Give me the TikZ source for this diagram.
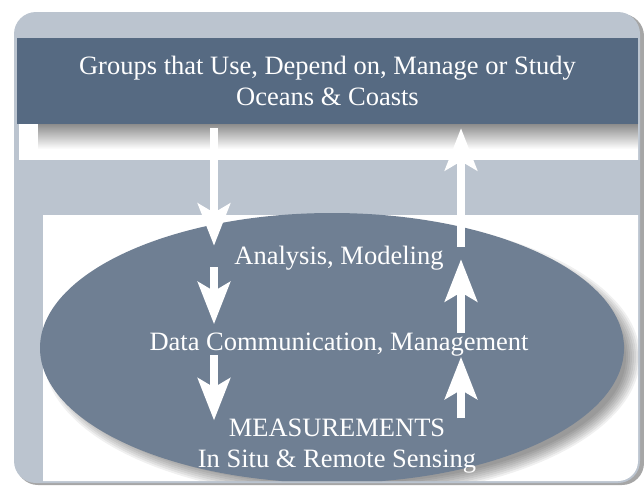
\documentclass[tikz,border=0pt]{standalone}
\usepackage{fontspec}
\setmainfont{Liberation Serif}
\usetikzlibrary{arrows.meta,shapes.geometric}

\definecolor{panelgray}{HTML}{BBC4CF}
\definecolor{headblue}{HTML}{566A82}
\definecolor{ovalblue}{HTML}{6F7F93}

\tikzset{
  labeltext/.style={text=white,font=\fontsize{26.5}{31.5}\selectfont,align=center,inner sep=0pt},
  bigarrow/.style={white,line width=8pt,-{Stealth[length=42pt,width=32pt,inset=9pt]}},
}

\begin{document}
\begin{tikzpicture}[x=1pt,y=-1pt]
\useasboundingbox (0,0) rectangle (644,485);
% background panel
\fill[black!35,rounded corners=22pt] (16,14) rectangle (644,485);
\fill[panelgray,rounded corners=22pt] (14,12) rectangle (640,483);
\begin{scope}
\clip[rounded corners=20pt] (14,12) rectangle (638,481);
\fill[white] (19,124) rectangle (640,160);
\shade[top color=black!45,bottom color=white] (38,124) rectangle (640,149);
\fill[white] (43,215) rectangle (640,485);
% soft shadow of the oval
\foreach \r in {0,2,...,14}
  \fill[black,opacity=0.06] (342,357) ellipse [x radius=284+\r, y radius=127+\r];
\node[ellipse,fill=ovalblue,minimum width=584pt,minimum height=270pt,inner sep=0pt] (oval) at (332,348) {};
\end{scope}
% header
\node[fill=headblue,minimum width=621pt,minimum height=86pt,inner sep=0pt] (header) at (327.5,81) {};
\node[labeltext] (groups) at (header.center) {Groups that Use, Depend on, Manage or Study\\Oceans \& Coasts};

\node[labeltext] (analysis) at (339,258) {Analysis, Modeling};
\node[labeltext] (data) at (339,345) {Data Communication, Management};
\node[labeltext] (meas) at (337,446) {MEASUREMENTS\\In Situ \& Remote Sensing};

\coordinate (lcol) at (214,0);
\coordinate (rcol) at (461,0);

% down the left side
\draw[bigarrow,shorten <=4pt] (header.south -| lcol) -- (analysis.north -| lcol);
\draw[bigarrow,shorten <=-3pt,shorten >=9pt] (analysis.south -| lcol) -- (data.north -| lcol);
\draw[bigarrow,shorten <=-2pt,shorten >=-2pt] (data.south -| lcol) -- (meas.north -| lcol);
% up the right side
\draw[bigarrow] (meas.north -| rcol) -- (data.south -| rcol);
\draw[bigarrow,shorten >=-11pt] (data.north -| rcol) -- (analysis.south -| rcol);
\draw[bigarrow,shorten <=-1pt,shorten >=4pt] (analysis.north -| rcol) -- (header.south -| rcol);
\end{tikzpicture}
\end{document}
